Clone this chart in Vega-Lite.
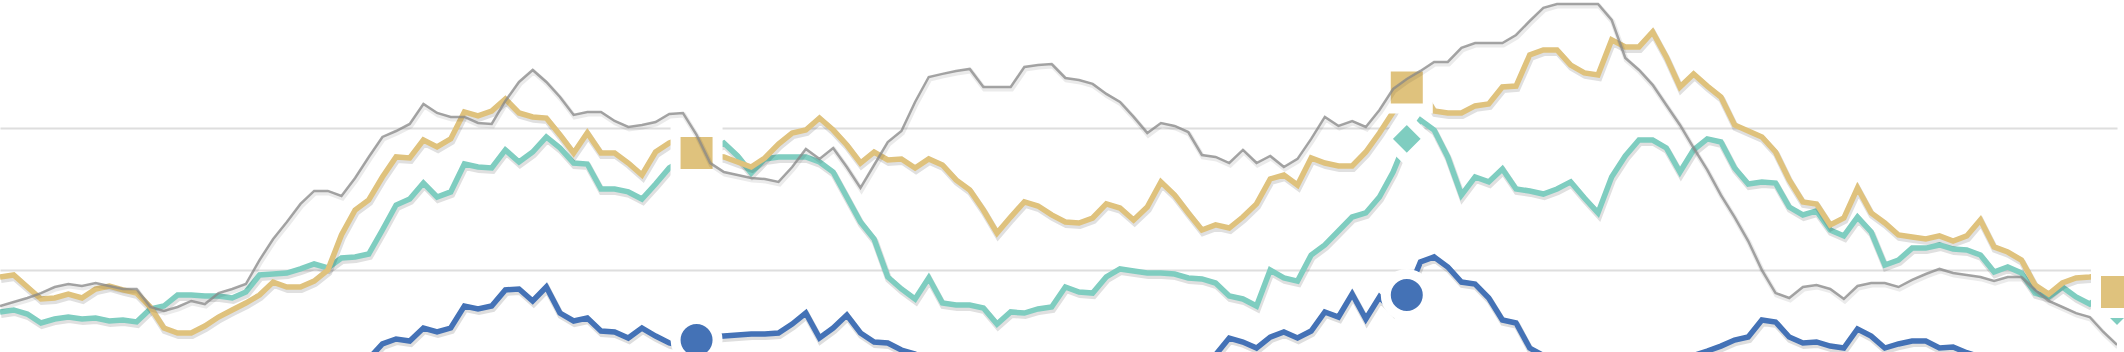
{
  "$schema": "https://vega.github.io/schema/vega-lite/v6.json",
  "width": 2117,
  "height": 352,
  "autosize": {"type": "none"},
  "padding": {"left": 0, "top": 0, "right": 7, "bottom": 0},
  "background": "white",
  "config": {"view": {"stroke": null}},
  "datasets": {
    "gold": [
      {"week":1,"value":9.47},{"week":2,"value":9.61},{"week":3,"value":8.76},{"week":4,"value":7.91},{"week":5,"value":7.98},{"week":6,"value":8.26},{"week":7,"value":7.98},{"week":8,"value":8.62},{"week":9,"value":8.83},{"week":10,"value":8.55},
      {"week":11,"value":8.33},{"week":12,"value":7.34},{"week":13,"value":5.85},{"week":14,"value":5.5},{"week":15,"value":5.5},{"week":16,"value":5.99},{"week":17,"value":6.63},{"week":18,"value":7.13},{"week":19,"value":7.62},{"week":20,"value":8.19},
      {"week":21,"value":9.11},{"week":22,"value":8.76},{"week":23,"value":8.76},{"week":24,"value":9.18},{"week":25,"value":9.96},{"week":26,"value":12.45},{"week":27,"value":14.22},{"week":28,"value":14.93},{"week":29,"value":16.56},{"week":30,"value":17.98},
      {"week":31,"value":17.91},{"week":32,"value":19.18},{"week":33,"value":18.69},{"week":34,"value":19.26},{"week":35,"value":21.17},{"week":36,"value":20.89},{"week":37,"value":21.24},{"week":38,"value":22.09},{"week":39,"value":21.1},{"week":40,"value":20.82},
      {"week":41,"value":20.74},{"week":42,"value":19.54},{"week":43,"value":18.26},{"week":44,"value":19.68},{"week":45,"value":18.26},{"week":46,"value":18.26},{"week":47,"value":17.55},{"week":48,"value":16.7},{"week":49,"value":18.33},{"week":50,"value":18.97},
      {"week":51,"value":19.33},{"week":52,"value":18.26},{"week":53,"value":18.05},{"week":54,"value":17.98},{"week":55,"value":17.62},{"week":56,"value":17.27},{"week":57,"value":17.91},{"week":58,"value":18.9},{"week":59,"value":19.68},{"week":60,"value":19.89},
      {"week":61,"value":20.74},{"week":62,"value":19.89},{"week":63,"value":18.83},{"week":64,"value":17.55},{"week":65,"value":18.33},{"week":66,"value":17.77},{"week":67,"value":17.84},{"week":68,"value":17.2},{"week":69,"value":17.84},{"week":70,"value":17.41},
      {"week":71,"value":16.35},{"week":72,"value":15.64},{"week":73,"value":14.22},{"week":74,"value":12.59},{"week":75,"value":13.72},{"week":76,"value":14.79},{"week":77,"value":14.5},{"week":78,"value":13.87},{"week":79,"value":13.37},{"week":80,"value":13.3},
      {"week":81,"value":13.65},{"week":82,"value":14.65},{"week":83,"value":14.36},{"week":84,"value":13.51},{"week":85,"value":14.43},{"week":86,"value":16.21},{"week":87,"value":15.28},{"week":88,"value":14.01},{"week":89,"value":12.8},{"week":90,"value":13.16},
      {"week":91,"value":12.94},{"week":92,"value":13.72},{"week":93,"value":14.65},{"week":94,"value":16.42},{"week":95,"value":16.7},{"week":96,"value":15.99},{"week":97,"value":17.91},{"week":98,"value":17.55},{"week":99,"value":17.34},{"week":100,"value":17.34},
      {"week":101,"value":18.33},{"week":102,"value":19.68},{"week":103,"value":21.17},{"week":104,"value":22.91},{"week":105,"value":22.87},{"week":106,"value":21.24},{"week":107,"value":21.1},{"week":108,"value":21.1},{"week":109,"value":21.6},{"week":110,"value":21.74},
      {"week":111,"value":22.94},{"week":112,"value":23.01},{"week":113,"value":25.21},{"week":114,"value":25.57},{"week":115,"value":25.57},{"week":116,"value":24.5},{"week":117,"value":23.94},{"week":118,"value":23.79},{"week":119,"value":26.28},{"week":120,"value":25.78},
      {"week":121,"value":25.78},{"week":122,"value":26.84},{"week":123,"value":25.07},{"week":124,"value":22.94},{"week":125,"value":23.87},{"week":126,"value":23.01},{"week":127,"value":22.23},{"week":128,"value":20.25},{"week":129,"value":19.82},{"week":130,"value":19.4},
      {"week":131,"value":18.33},{"week":132,"value":16.35},{"week":133,"value":14.79},{"week":134,"value":14.65},{"week":135,"value":13.16},{"week":136,"value":13.65},{"week":137,"value":15.78},{"week":138,"value":14.01},{"week":139,"value":13.3},{"week":140,"value":12.45},
      {"week":141,"value":12.3},{"week":142,"value":12.16},{"week":143,"value":12.38},{"week":144,"value":12.02},{"week":145,"value":12.38},{"week":146,"value":13.51},{"week":147,"value":11.6},{"week":148,"value":11.24},{"week":149,"value":10.67},{"week":150,"value":8.9},
      {"week":151,"value":8.26},{"week":152,"value":9.04},{"week":153,"value":9.4},{"week":154,"value":9.47},{"week":155,"value":9.61},{"week":156,"value":8.4}
    ],
    "teal": [
      {"week":1,"value":6.99},{"week":2,"value":7.13},{"week":3,"value":6.84},{"week":4,"value":6.21},{"week":5,"value":6.49},{"week":6,"value":6.63},{"week":7,"value":6.49},{"week":8,"value":6.56},{"week":9,"value":6.35},{"week":10,"value":6.42},
      {"week":11,"value":6.28},{"week":12,"value":7.2},{"week":13,"value":7.41},{"week":14,"value":8.19},{"week":15,"value":8.19},{"week":16,"value":8.12},{"week":17,"value":8.12},{"week":18,"value":7.98},{"week":19,"value":8.4},{"week":20,"value":9.61},
      {"week":21,"value":9.68},{"week":22,"value":9.75},{"week":23,"value":10.04},{"week":24,"value":10.39},{"week":25,"value":10.11},{"week":26,"value":10.82},{"week":27,"value":10.89},{"week":28,"value":11.1},{"week":29,"value":12.8},{"week":30,"value":14.57},
      {"week":31,"value":15.0},{"week":32,"value":16.13},{"week":33,"value":15.14},{"week":34,"value":15.5},{"week":35,"value":17.48},{"week":36,"value":17.27},{"week":37,"value":17.2},{"week":38,"value":18.48},{"week":39,"value":17.62},{"week":40,"value":18.33},
      {"week":41,"value":19.4},{"week":42,"value":18.62},{"week":43,"value":17.55},{"week":44,"value":17.48},{"week":45,"value":15.71},{"week":46,"value":15.71},{"week":47,"value":15.5},{"week":48,"value":15.0},{"week":49,"value":16.06},{"week":50,"value":17.2},
      {"week":51,"value":17.77},{"week":52,"value":18.26},{"week":53,"value":18.48},{"week":54,"value":18.97},{"week":55,"value":18.05},{"week":56,"value":16.84},{"week":57,"value":17.84},{"week":58,"value":17.98},{"week":59,"value":17.98},{"week":60,"value":17.98},
      {"week":61,"value":17.62},{"week":62,"value":16.91},{"week":63,"value":15.14},{"week":64,"value":13.37},{"week":65,"value":12.16},{"week":66,"value":9.47},{"week":67,"value":8.62},{"week":68,"value":7.91},{"week":69,"value":9.4},{"week":70,"value":7.62},
      {"week":71,"value":7.48},{"week":72,"value":7.48},{"week":73,"value":7.27},{"week":74,"value":6.13},{"week":75,"value":6.99},{"week":76,"value":6.91},{"week":77,"value":7.2},{"week":78,"value":7.34},{"week":79,"value":8.76},{"week":80,"value":8.4},
      {"week":81,"value":8.33},{"week":82,"value":9.47},{"week":83,"value":10.04},{"week":84,"value":9.89},{"week":85,"value":9.75},{"week":86,"value":9.75},{"week":87,"value":9.68},{"week":88,"value":9.4},{"week":89,"value":9.33},{"week":90,"value":9.04},
      {"week":91,"value":8.12},{"week":92,"value":7.91},{"week":93,"value":7.41},{"week":94,"value":9.96},{"week":95,"value":9.4},{"week":96,"value":9.18},{"week":97,"value":11.03},{"week":98,"value":11.74},{"week":99,"value":12.73},{"week":100,"value":13.72},
      {"week":101,"value":14.01},{"week":102,"value":15.14},{"week":103,"value":16.91},{"week":104,"value":19.26},{"week":105,"value":20.6},{"week":106,"value":19.89},{"week":107,"value":17.98},{"week":108,"value":15.28},{"week":109,"value":16.56},{"week":110,"value":16.21},
      {"week":111,"value":17.13},{"week":112,"value":15.71},{"week":113,"value":15.57},{"week":114,"value":15.35},{"week":115,"value":15.71},{"week":116,"value":16.21},{"week":117,"value":15.07},{"week":118,"value":14.01},{"week":119,"value":16.56},{"week":120,"value":18.05},
      {"week":121,"value":19.18},{"week":122,"value":19.18},{"week":123,"value":18.62},{"week":124,"value":16.91},{"week":125,"value":18.48},{"week":126,"value":19.26},{"week":127,"value":19.04},{"week":128,"value":17.2},{"week":129,"value":16.06},{"week":130,"value":16.21},
      {"week":131,"value":16.13},{"week":132,"value":14.43},{"week":133,"value":13.87},{"week":134,"value":14.15},{"week":135,"value":12.8},{"week":136,"value":12.38},{"week":137,"value":13.72},{"week":138,"value":12.66},{"week":139,"value":10.32},{"week":140,"value":10.67},
      {"week":141,"value":11.52},{"week":142,"value":11.52},{"week":143,"value":11.74},{"week":144,"value":11.45},{"week":145,"value":11.38},{"week":146,"value":11.03},{"week":147,"value":9.82},{"week":148,"value":10.18},{"week":149,"value":9.75},{"week":150,"value":8.33},
      {"week":151,"value":8.05},{"week":152,"value":8.76},{"week":153,"value":8.05},{"week":154,"value":7.55},{"week":155,"value":8.26},{"week":156,"value":7.06}
    ],
    "gray": [
      {"week":1,"value":7.41},{"week":2,"value":7.7},{"week":3,"value":7.98},{"week":4,"value":8.33},{"week":5,"value":8.76},{"week":6,"value":8.97},{"week":7,"value":8.83},{"week":8,"value":9.04},{"week":9,"value":8.83},{"week":10,"value":8.62},
      {"week":11,"value":8.62},{"week":12,"value":7.34},{"week":13,"value":7.06},{"week":14,"value":7.34},{"week":15,"value":7.77},{"week":16,"value":7.55},{"week":17,"value":8.33},{"week":18,"value":8.62},{"week":19,"value":8.97},{"week":20,"value":10.67},
      {"week":21,"value":12.16},{"week":22,"value":13.37},{"week":23,"value":14.65},{"week":24,"value":15.57},{"week":25,"value":15.57},{"week":26,"value":15.21},{"week":27,"value":16.49},{"week":28,"value":17.98},{"week":29,"value":19.4},{"week":30,"value":19.82},
      {"week":31,"value":20.32},{"week":32,"value":21.74},{"week":33,"value":21.1},{"week":34,"value":20.82},{"week":35,"value":20.82},{"week":36,"value":20.39},{"week":37,"value":20.32},{"week":38,"value":21.95},{"week":39,"value":23.3},{"week":40,"value":24.15},
      {"week":41,"value":23.3},{"week":42,"value":22.23},{"week":43,"value":20.96},{"week":44,"value":21.17},{"week":45,"value":21.17},{"week":46,"value":20.53},{"week":47,"value":20.11},{"week":48,"value":20.25},{"week":49,"value":20.46},{"week":50,"value":21.03},
      {"week":51,"value":21.1},{"week":52,"value":19.54},{"week":53,"value":17.55},{"week":54,"value":16.91},{"week":55,"value":16.7},{"week":56,"value":16.49},{"week":57,"value":16.42},{"week":58,"value":16.21},{"week":59,"value":17.27},{"week":60,"value":18.55},
      {"week":61,"value":17.84},{"week":62,"value":18.62},{"week":63,"value":17.27},{"week":64,"value":15.78},{"week":65,"value":17.41},{"week":66,"value":19.04},{"week":67,"value":19.82},{"week":68,"value":21.88},{"week":69,"value":23.65},{"week":70,"value":23.87},
      {"week":71,"value":24.08},{"week":72,"value":24.22},{"week":73,"value":22.94},{"week":74,"value":22.94},{"week":75,"value":22.94},{"week":76,"value":24.36},{"week":77,"value":24.5},{"week":78,"value":24.57},{"week":79,"value":23.58},{"week":80,"value":23.44},
      {"week":81,"value":23.16},{"week":82,"value":22.45},{"week":83,"value":21.88},{"week":84,"value":20.82},{"week":85,"value":19.68},{"week":86,"value":20.39},{"week":87,"value":20.18},{"week":88,"value":19.75},{"week":89,"value":18.12},{"week":90,"value":17.98},
      {"week":91,"value":17.55},{"week":92,"value":18.48},{"week":93,"value":17.55},{"week":94,"value":18.05},{"week":95,"value":17.27},{"week":96,"value":17.84},{"week":97,"value":19.26},{"week":98,"value":20.82},{"week":99,"value":20.18},{"week":100,"value":20.53},
      {"week":101,"value":20.11},{"week":102,"value":21.31},{"week":103,"value":22.8},{"week":104,"value":23.51},{"week":105,"value":24.08},{"week":106,"value":24.72},{"week":107,"value":24.72},{"week":108,"value":25.71},{"week":109,"value":26.06},{"week":110,"value":26.06},
      {"week":111,"value":26.06},{"week":112,"value":26.63},{"week":113,"value":27.62},{"week":114,"value":28.55},{"week":115,"value":28.83},{"week":116,"value":28.83},{"week":117,"value":28.83},{"week":118,"value":28.83},{"week":119,"value":27.7},{"week":120,"value":25.0},
      {"week":121,"value":24.15},{"week":122,"value":23.09},{"week":123,"value":21.67},{"week":124,"value":20.25},{"week":125,"value":18.62},{"week":126,"value":17.06},{"week":127,"value":15.28},{"week":128,"value":13.72},{"week":129,"value":12.02},{"week":130,"value":9.96},
      {"week":131,"value":8.33},{"week":132,"value":7.98},{"week":133,"value":8.76},{"week":134,"value":8.9},{"week":135,"value":8.62},{"week":136,"value":7.91},{"week":137,"value":8.83},{"week":138,"value":9.04},{"week":139,"value":9.04},{"week":140,"value":8.76},
      {"week":141,"value":9.26},{"week":142,"value":9.68},{"week":143,"value":10.04},{"week":144,"value":9.75},{"week":145,"value":9.61},{"week":146,"value":9.47},{"week":147,"value":9.18},{"week":148,"value":9.47},{"week":149,"value":9.47},{"week":150,"value":8.55},
      {"week":151,"value":7.77},{"week":152,"value":7.34},{"week":153,"value":6.91},{"week":154,"value":6.63},{"week":155,"value":5.57},{"week":156,"value":4.65}
    ],
    "blue": [
      {"week":1,"value":1.9},{"week":2,"value":1.7},{"week":3,"value":1.5},{"week":4,"value":1.6},{"week":5,"value":1.4},{"week":6,"value":1.2},{"week":7,"value":1.3},{"week":8,"value":1.1},{"week":9,"value":1.0},{"week":10,"value":1.2},
      {"week":11,"value":0.9},{"week":12,"value":0.8},{"week":13,"value":1.0},{"week":14,"value":1.1},{"week":15,"value":1.3},{"week":16,"value":1.2},{"week":17,"value":1.4},{"week":18,"value":1.5},{"week":19,"value":1.6},{"week":20,"value":1.8},
      {"week":21,"value":1.9},{"week":22,"value":2.1},{"week":23,"value":2.2},{"week":24,"value":2.4},{"week":25,"value":2.6},{"week":26,"value":2.8},{"week":27,"value":3.0},{"week":28,"value":3.68},{"week":29,"value":4.72},{"week":30,"value":5.07},
      {"week":31,"value":4.93},{"week":32,"value":5.85},{"week":33,"value":5.57},{"week":34,"value":5.85},{"week":35,"value":7.41},{"week":36,"value":7.2},{"week":37,"value":7.41},{"week":38,"value":8.55},{"week":39,"value":8.62},{"week":40,"value":7.77},
      {"week":41,"value":8.76},{"week":42,"value":6.91},{"week":43,"value":6.35},{"week":44,"value":6.56},{"week":45,"value":5.64},{"week":46,"value":5.57},{"week":47,"value":5.14},{"week":48,"value":5.85},{"week":49,"value":5.28},{"week":50,"value":4.79},
      {"week":51,"value":4.57},{"week":52,"value":5.0},{"week":53,"value":5.21},{"week":54,"value":5.28},{"week":55,"value":5.35},{"week":56,"value":5.43},{"week":57,"value":5.43},{"week":58,"value":5.5},{"week":59,"value":6.13},{"week":60,"value":6.91},
      {"week":61,"value":5.14},{"week":62,"value":5.85},{"week":63,"value":6.77},{"week":64,"value":5.5},{"week":65,"value":4.86},{"week":66,"value":4.79},{"week":67,"value":4.29},{"week":68,"value":4.0},{"week":69,"value":3.4},{"week":70,"value":3.1},
      {"week":71,"value":2.9},{"week":72,"value":2.6},{"week":73,"value":2.4},{"week":74,"value":2.5},{"week":75,"value":2.3},{"week":76,"value":2.1},{"week":77,"value":2.2},{"week":78,"value":2.0},{"week":79,"value":1.9},{"week":80,"value":2.1},
      {"week":81,"value":2.2},{"week":82,"value":2.4},{"week":83,"value":2.3},{"week":84,"value":2.5},{"week":85,"value":2.7},{"week":86,"value":2.9},{"week":87,"value":3.1},{"week":88,"value":3.3},{"week":89,"value":3.6},{"week":90,"value":3.95},
      {"week":91,"value":5.14},{"week":92,"value":4.86},{"week":93,"value":4.43},{"week":94,"value":5.21},{"week":95,"value":5.57},{"week":96,"value":5.14},{"week":97,"value":5.64},{"week":98,"value":6.99},{"week":99,"value":6.63},{"week":100,"value":8.26},
      {"week":101,"value":6.49},{"week":102,"value":8.05},{"week":103,"value":7.06},{"week":104,"value":8.19},{"week":105,"value":10.53},{"week":106,"value":10.89},{"week":107,"value":10.18},{"week":108,"value":9.11},{"week":109,"value":8.97},{"week":110,"value":7.98},
      {"week":111,"value":6.42},{"week":112,"value":6.21},{"week":113,"value":4.43},{"week":114,"value":3.9},{"week":115,"value":3.3},{"week":116,"value":3.0},{"week":117,"value":2.6},{"week":118,"value":2.3},{"week":119,"value":2.4},{"week":120,"value":2.6},
      {"week":121,"value":2.8},{"week":122,"value":3.1},{"week":123,"value":3.4},{"week":124,"value":3.5},{"week":125,"value":3.9},{"week":126,"value":4.22},{"week":127,"value":4.57},{"week":128,"value":5.0},{"week":129,"value":5.21},{"week":130,"value":6.42},
      {"week":131,"value":6.28},{"week":132,"value":5.21},{"week":133,"value":4.79},{"week":134,"value":4.86},{"week":135,"value":4.57},{"week":136,"value":4.43},{"week":137,"value":5.78},{"week":138,"value":5.28},{"week":139,"value":4.43},{"week":140,"value":4.72},
      {"week":141,"value":4.93},{"week":142,"value":4.93},{"week":143,"value":4.43},{"week":144,"value":4.5},{"week":145,"value":4.1},{"week":146,"value":3.8},{"week":147,"value":3.5},{"week":148,"value":3.6},{"week":149,"value":3.3},{"week":150,"value":3.0},
      {"week":151,"value":2.8},{"week":152,"value":2.9},{"week":153,"value":2.6},{"week":154,"value":2.4},{"week":155,"value":2.3},{"week":156,"value":2.1}
    ]
  },
  "encoding": {
    "x": {"field": "week", "type": "quantitative", "scale": {"domain": [1, 156], "nice": false, "zero": false}, "axis": null},
    "y": {"field": "value", "type": "quantitative", "scale": {"domain": [4.15, 29.11], "nice": false, "zero": false},
      "axis": {"values": [10, 20], "grid": true, "labels": false, "ticks": false, "domain": false, "title": null, "gridColor": "#dedede", "gridWidth": 2}}
  },
  "layer": [
    {"data": {"name": "blue"}, "mark": {"type": "line", "clip": true, "color": "#000000", "opacity": 0.13, "strokeWidth": 7, "xOffset": 1, "yOffset": 2.5}, "encoding": {}},
    {"data": {"name": "blue"}, "mark": {"type": "line", "clip": true, "color": "#4472b6", "strokeWidth": 5.5}, "encoding": {}},
    {"data": {"name": "blue"}, "transform": [{"filter": "datum.week % 52 === 0"}], "mark": {"type": "point", "shape": "circle", "filled": true, "color": "#4472b6", "opacity": 1, "size": 1764, "stroke": "white", "strokeWidth": 10}, "encoding": {}},
    {"data": {"name": "teal"}, "mark": {"type": "line", "clip": true, "color": "#000000", "opacity": 0.12, "strokeWidth": 7, "xOffset": 1, "yOffset": 2.5}, "encoding": {}},
    {"data": {"name": "teal"}, "mark": {"type": "line", "clip": true, "color": "#7fcdc0", "strokeWidth": 5.5}, "encoding": {}},
    {"data": {"name": "teal"}, "transform": [{"filter": "datum.week % 52 === 0"}], "mark": {"type": "point", "shape": "diamond", "filled": true, "color": "#7fcdc0", "opacity": 1, "size": 1764, "stroke": "white", "strokeWidth": 10}, "encoding": {}},
    {"data": {"name": "gold"}, "mark": {"type": "line", "clip": true, "color": "#000000", "opacity": 0.12, "strokeWidth": 7, "xOffset": 1, "yOffset": 2.5}, "encoding": {}},
    {"data": {"name": "gold"}, "mark": {"type": "line", "clip": true, "color": "#dfc27d", "strokeWidth": 5.5}, "encoding": {}},
    {"data": {"name": "gold"}, "transform": [{"filter": "datum.week % 52 === 0"}], "mark": {"type": "point", "shape": "square", "filled": true, "color": "#dfc27d", "opacity": 1, "size": 1764, "stroke": "white", "strokeWidth": 10}, "encoding": {}},
    {"data": {"name": "gray"}, "mark": {"type": "line", "clip": true, "color": "#000000", "opacity": 0.08, "strokeWidth": 5, "xOffset": 1, "yOffset": 2}, "encoding": {}},
    {"data": {"name": "gray"}, "mark": {"type": "line", "clip": true, "color": "#888888", "opacity": 0.75, "strokeWidth": 2.5}, "encoding": {}}
  ]
}
